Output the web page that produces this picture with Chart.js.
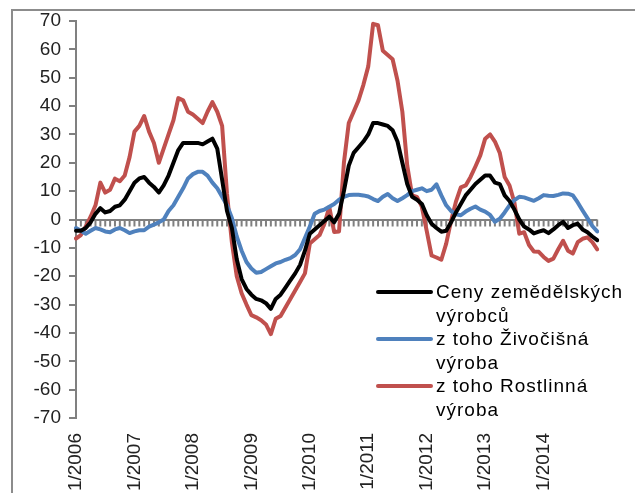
<!DOCTYPE html>
<html>
<head>
<meta charset="utf-8">
<script src="https://cdn.jsdelivr.net/npm/chart.js@4.4.0/dist/chart.umd.min.js"></script>
<style>
  html, body { margin: 0; padding: 0; background: #fff; overflow: hidden; }
  #frame { position: absolute; left: 11px; top: 9px; width: 700px; height: 600px;
           border-left: 2px solid #8c8c8c; border-top: 2px solid #8c8c8c; }
  #wrap { position: absolute; left: 0; top: 0; width: 635px; height: 493px; }
</style>
</head>
<body>
<div id="frame"></div>
<div id="wrap"><canvas id="c" width="635" height="493"></canvas></div>
<script>
// months 1/2006 .. 12/2014
const years = [2006, 2007, 2008, 2009, 2010, 2011, 2012, 2013, 2014];
const months = [];
years.forEach(y => { for (let m = 1; m <= 12; m++) months.push(m + "/" + y); });

const yTicks = { min: -70, max: 70, step: 10 };

// Ceny zemědělských výrobců
const total = [
  -4, -4, -3, -1, 2, 4, 2.5, 3, 4.5, 5, 7, 10,
  13, 14.5, 15, 13, 11.5, 9.5, 12, 15.5, 20, 24.5, 27, 27,
  27, 27, 26.5, 27.5, 28.5, 25, 14, 3, -3, -14, -21, -24.5,
  -26.5, -28, -28.5, -29.5, -31.5, -28, -26.5, -24, -21.5, -19, -16, -11,
  -5, -3.5, -2, -0.5, 1, -1, 2, 10, 19, 23.5, 25.5, 27.5,
  30, 34, 34, 33.5, 33, 31.5, 27.5, 20, 12.5, 8, 7, 5.5,
  1.5, -1.5, -3, -4.3, -4, -1, 2.5, 5.5, 8.5, 10.5, 12.5, 14,
  15.5, 15.5, 13, 12.5, 8.5, 6.5, 3.5, 0, -2.5, -3.5, -4.9, -4.3,
  -3.8, -4.8, -3.5, -2, -0.8, -3, -2, -1.5, -3.5, -4.5, -6, -7.3
];

// z toho Živočišná výroba
const animal = [
  -3, -4, -5, -4, -3, -3.5, -4.2, -4.5, -3.5, -3, -3.8, -4.8,
  -4.2, -3.8, -3.8, -2.5, -1.8, -1, 0, 3, 5, 8, 11, 14.5,
  16, 16.8, 16.8, 15.5, 13, 11, 8, 5, 0.5, -6, -11, -15,
  -17.3, -18.8, -18.5, -17.5, -16.5, -15.5, -15, -14.2, -13.6, -12.5, -10.5, -6.5,
  -2.5, 2, 3, 3.5, 4.5, 5.5, 7, 8, 8.6, 8.7, 8.7, 8.5,
  8.1, 7.2, 6.5, 8, 9, 7.5, 6.5, 7.5, 8.6, 10, 10.5, 11,
  10, 10.5, 12.4, 8.5, 5, 3, 1.8, 1.5, 2.8, 3.8, 4.6, 3.5,
  2.8, 1.6, -0.8, 0.3, 2.5, 5, 6.8, 8, 7.8, 7.2, 6.6, 7.5,
  8.6, 8.4, 8.3, 8.7, 9.2, 9.1, 8.5, 6, 3.2, 0.5, -2.3, -4.2
];

// z toho Rostlinná výroba
const crop = [
  -6.7, -5.5, -2.5, 1, 5, 13, 9.5, 10.5, 14.4, 13.5, 15.5, 22,
  31, 33, 36.5, 31, 27, 20, 25, 30, 35, 42.8, 42, 38,
  37, 35.5, 34, 38, 41.4, 38, 33, 9, -8, -20, -26, -30,
  -33.7, -34.5, -35.5, -37, -40.4, -35, -34, -31, -28, -25, -22, -19,
  -8.5, -7, -5.5, -1.5, 4.4, -4.4, -4.2, 20, 34, 38, 42, 47.5,
  54, 69, 68.5, 59.5, 58, 56.5, 49, 38, 19, 8.5, 8, 4.5,
  -4, -12.7, -13.4, -14.2, -8.5, -0.5, 6.3, 11.3, 12, 15, 18.7, 22.6,
  28.5, 30, 27.5, 23.5, 15, 12, 6, -5, -4.5, -9, -11.3, -11.4,
  -13.2, -14.6, -13.8, -10.5, -7.5, -11, -12, -8, -6.8, -6.3, -8, -10.5
];

const seriesNames = [
  ["Ceny zemědělských", "výrobců"],
  ["z toho Živočišná", "výroba"],
  ["z toho Rostlinná", "výroba"]
];
const seriesColors = ["#000000", "#4F81BD", "#C0504D"];

const FONT = "'Liberation Sans', Arial, sans-serif";
const AXIS_GREY = "#808080";

// month ticks on the zero line + legend at the right
const decor = {
  id: "decor",
  beforeDatasetsDraw(chart) {
    const c = chart.ctx;
    const xs = chart.scales.x, ys = chart.scales.y;
    const y0 = ys.getPixelForValue(0);
    c.save();
    c.fillStyle = AXIS_GREY;
    for (let i = 0; i < months.length; i++) {
      const px = xs.getPixelForValue(i);
      c.fillRect(px - 1, y0, 2, 7);
    }
    c.restore();
  },
  afterDraw(chart) {
    const c = chart.ctx;
    c.save();
    c.font = "19px " + FONT;
    c.letterSpacing = "1px";
    c.textBaseline = "middle";
    c.fillStyle = "#000";
    chart.data.datasets.forEach((ds, k) => {
      const y = 292 + k * 47;
      c.strokeStyle = ds.borderColor;
      c.lineWidth = 4;
      c.lineCap = "round";
      c.beginPath();
      c.moveTo(378, y);
      c.lineTo(431, y);
      c.stroke();
      ds.label.forEach((t, j) => c.fillText(t, 436, y + 1 + j * 23.7));
    });
    c.restore();
  }
};

new Chart(document.getElementById("c"), {
  type: "line",
  data: {
    labels: months,
    datasets: [total, animal, crop].map((d, i) => ({
      label: seriesNames[i],
      data: d,
      borderColor: seriesColors[i],
      backgroundColor: seriesColors[i],
      borderWidth: 4,
      pointRadius: 0,
      tension: 0,
      borderJoinStyle: "round",
      borderCapStyle: "round"
    }))
  },
  options: {
    responsive: false,
    animation: false,
    layout: { padding: { top: 21, right: 12, left: 0, bottom: 0 } },
    plugins: {
      legend: { display: false },
      tooltip: { enabled: false }
    },
    scales: {
      x: {
        type: "category",
        offset: false,
        grid: { display: false, drawTicks: false },
        border: { display: false },
        ticks: {
          autoSkip: false,
          maxRotation: 90,
          minRotation: 90,
          padding: 15,
          color: "#222",
          font: { family: FONT, size: 19 },
          callback: function (v, i) {
            const l = months[i];
            return l.startsWith("1/") ? l : "";
          }
        },
        afterFit: s => { s.height = 75; }
      },
      y: {
        min: yTicks.min,
        max: yTicks.max,
        grid: {
          display: true,
          drawOnChartArea: true,
          drawTicks: true,
          tickLength: 7,
          lineWidth: 2,
          color: c => (c.tick && c.tick.value === 0) ? AXIS_GREY : "rgba(0,0,0,0)",
          tickColor: AXIS_GREY
        },
        border: { display: true, color: AXIS_GREY, width: 2 },
        ticks: {
          stepSize: yTicks.step,
          padding: 8,
          color: "#222",
          font: { family: FONT, size: 19 }
        },
        afterFit: s => { s.width = 76; }
      }
    }
  },
  plugins: [decor]
});
</script>
</body>
</html>
